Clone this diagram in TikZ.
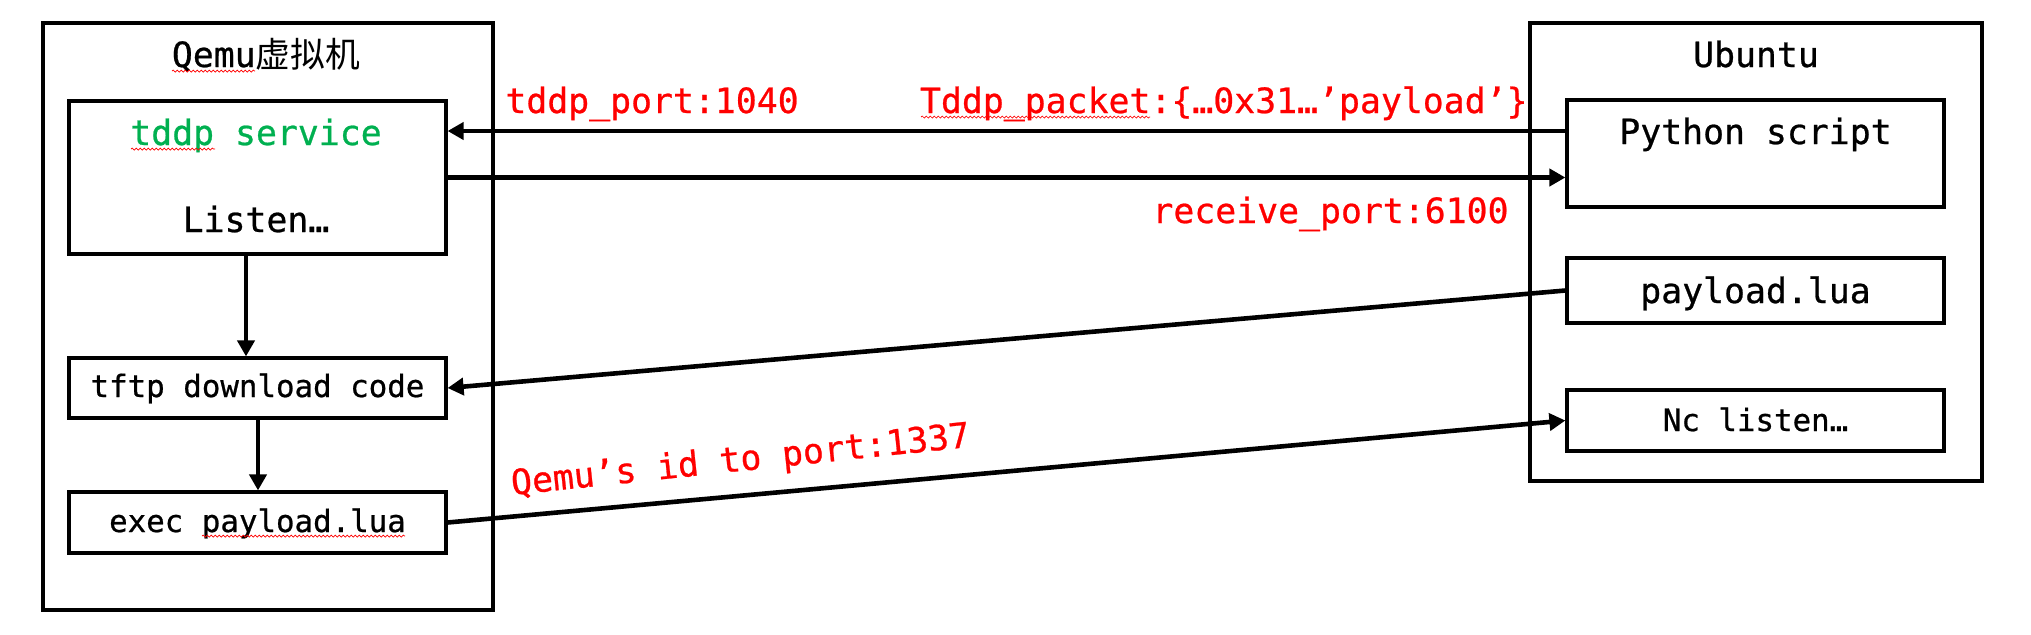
\documentclass[tikz,border=0pt]{standalone}
\usepackage{fontspec}
\setmainfont{DejaVu Sans Mono}[FakeBold=0.7]
\newfontfamily\cjk{Noto Sans CJK SC}
\usetikzlibrary{arrows.meta,decorations.pathmorphing}
\definecolor{wgreen}{RGB}{0,176,80}
\definecolor{wred}{RGB}{255,0,0}
\tikzset{
  outerbox/.style={draw=black,line width=1.6pt,rectangle,inner sep=0pt},
  innerbox/.style={draw=black,line width=1.6pt,rectangle,inner sep=0pt},
  bigtxt/.style={font=\fontsize{17.4}{20}\selectfont,inner sep=0pt},
  smalltxt/.style={font=\fontsize{15.4}{18}\selectfont,inner sep=0pt},
  redtxt/.style={font=\fontsize{17.4}{20}\selectfont,text=wred,inner sep=0pt},
  arr/.style={line width=2.3pt,-{Triangle[length=8pt,width=8.5pt]}},
  squig/.style={draw=wred,line width=0.35pt,decorate,decoration={snake,amplitude=0.5pt,segment length=2pt}}
}
\begin{document}
\begin{tikzpicture}[x=0.5pt,y=-0.5pt]
\useasboundingbox (0,0) rectangle (2031,634);
% outer boxes
\node[outerbox,minimum width=225pt,minimum height=293.5pt] (qemu) at (268,316.5) {};
\node[outerbox,minimum width=226pt,minimum height=229pt] (ubuntu) at (1756,252) {};
\node[bigtxt,anchor=base] (qemut) at (266,67) {Qemu{\cjk 虚拟机}};
\node[bigtxt,anchor=base] (ubut) at (1756,67) {Ubuntu};
% left inner boxes
\node[innerbox,minimum width=188.5pt,minimum height=76.5pt] (tddp) at (257.5,177.5) {};
\node[bigtxt,anchor=base,text=wgreen] (tddpt) at (256,145) {tddp service};
\node[bigtxt,anchor=base] (listen) at (256,232) {Listen…};
\node[innerbox,minimum width=188.5pt,minimum height=30pt] (tftp) at (257.5,388) {};
\node[smalltxt,anchor=base] (tftpt) at (257.5,397) {tftp download code};
\node[innerbox,minimum width=188.5pt,minimum height=30.5pt] (exec) at (257.5,522.5) {};
\node[smalltxt,anchor=base] (exect) at (257.5,532) {exec payload.lua};
% right inner boxes
\node[innerbox,minimum width=188.5pt,minimum height=53.5pt] (py) at (1755.5,153.5) {};
\node[bigtxt,anchor=base] (pyt) at (1755.5,144) {Python script};
\node[innerbox,minimum width=188.5pt,minimum height=32.5pt] (pl) at (1755.5,290.5) {};
\node[bigtxt,anchor=base] (plt) at (1755.5,303) {payload.lua};
\node[innerbox,minimum width=188.5pt,minimum height=30.5pt] (nc) at (1755.5,420.5) {};
\node[smalltxt,anchor=base] (nct) at (1755.5,431) {Nc listen…};
% levels
\coordinate (l1) at (0,131);
\coordinate (l2) at (0,177.5);
\coordinate (c1) at (246,0);
\coordinate (c2) at (258,0);
% connectors
\draw[arr] (py.west |- l1) -- (tddp.east |- l1);
\draw[arr] (tddp.east |- l2) -- (py.west |- l2);
\draw[arr] (pl.west) -- (tftp.east);
\draw[arr] (exec.east) -- (nc.west);
\draw[arr] (tddp.south -| c1) -- (tftp.north -| c1);
\draw[arr] (tftp.south -| c2) -- (exec.north -| c2);
% labels
\node[redtxt,anchor=base west] (lab1) at (505,113) {tddp\_port:1040};
\node[redtxt,anchor=base east] (lab2) at (1528,113) {Tddp\_packet:\{…0x31…’payload’\}};
\node[redtxt,anchor=base east] (lab3) at (1509,223) {receive\_port:6100};
\node[redtxt,anchor=base west,rotate=6] (lab4) at (512,495) {Qemu’s id to port:1337};
% spell-check squiggles
\draw[squig] (172,71) -- (255,71);
\draw[squig] (131,149) -- (215,149);
\draw[squig] (202,536) -- (405,536);
\draw[squig] (921,117) -- (1150,117);
\end{tikzpicture}
\end{document}
